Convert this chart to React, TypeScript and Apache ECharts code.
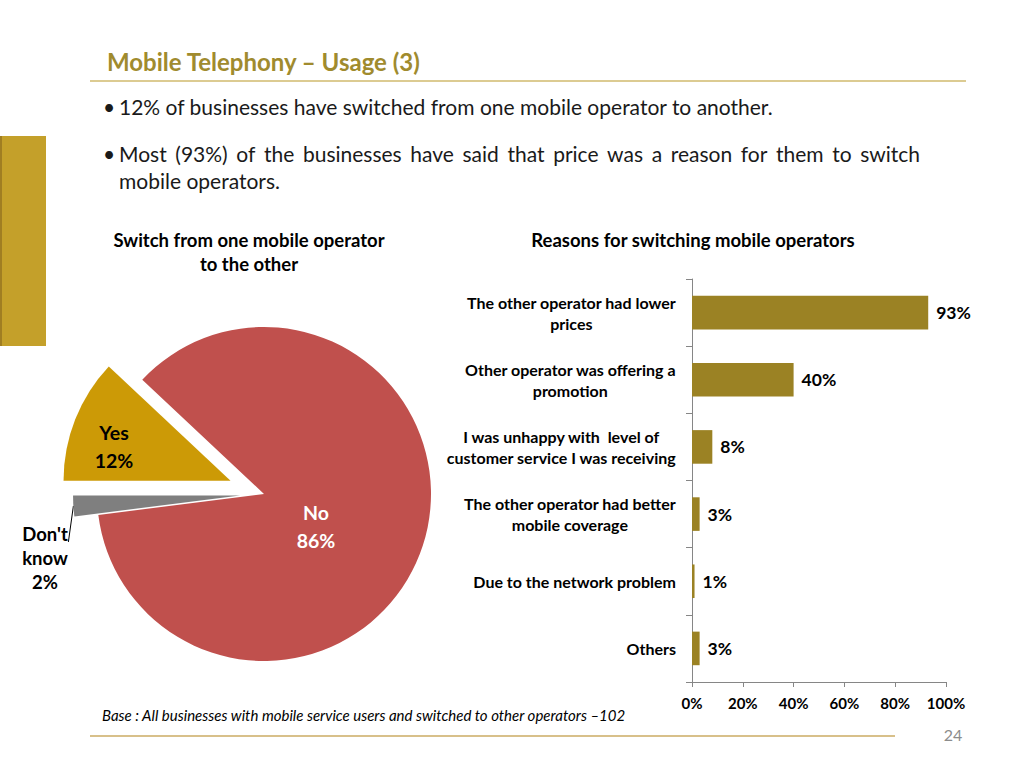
import React, { useEffect, useRef } from 'react';
import * as echarts from 'echarts';

const FONT = 'Lato, "Open Sans", sans-serif';

const titleText = 'Mobile Telephony – Usage (3)';
const bullet1 = '12% of businesses have switched from one mobile operator to another.';
const bullet2Line1 = 'Most (93%) of the businesses have said that price was a reason for them to switch';
const bullet2Line2 = 'mobile operators.';
const pieTitle = ['Switch from one mobile operator', 'to the other'];
const barTitle = 'Reasons for switching mobile operators';
const footnote = 'Base : All businesses with mobile service users and switched to other operators –102';
const pageNumber = '24';

const pieNames = ['Yes', 'No', "Don't know"];
const pieValues = [12, 86, 2];
const pieColors = ['#CC9A06', '#C0504D', '#7F7F7F'];

const reasonCategories = [
  'The other operator had lower\nprices',
  'Other operator was offering a\npromotion',
  'I was unhappy with  level of\ncustomer service I was receiving',
  'The other operator had better\nmobile coverage',
  'Due to the network problem',
  'Others',
];
const reasonValues = [93, 40, 8, 3, 1, 3];
const xTickMin = 0;
const xTickMax = 100;
const xTickStep = 20;

function justifiedWords(line: string, x0: number, x1: number, font: string) {
  const words = line.split(' ');
  const ctx = document.createElement('canvas').getContext('2d')!;
  ctx.font = font;
  const widths = words.map((w) => ctx.measureText(w).width);
  const total = widths.reduce((a, b) => a + b, 0);
  const gap = (x1 - x0 - total) / (words.length - 1);
  let x = x0;
  return words.map((w, i) => {
    const el = { w, x };
    x += widths[i] + gap;
    return el;
  });
}

export default function App() {
  const ref = useRef<HTMLDivElement>(null);

  useEffect(() => {
    if (!ref.current) return;
    const chart = echarts.init(ref.current, null, { renderer: 'svg' });

    const bodyFont = `21px Lato`;
    const words = justifiedWords(bullet2Line1, 119, 920, bodyFont);

    const txt = (text: string, x: number, y: number, extra: any = {}) => ({
      type: 'text',
      x,
      y,
      silent: true,
      style: {
        text,
        fill: '#1a1a1a',
        fontFamily: FONT,
        fontSize: 21,
        align: 'left',
        verticalAlign: 'middle',
        ...extra,
      },
    });

    const graphics: any[] = [
      {
        type: 'rect',
        shape: { x: 0, y: 136, width: 46, height: 210 },
        style: { fill: '#C4A02A' },
        silent: true,
      },
      {
        type: 'rect',
        shape: { x: 0, y: 136, width: 2, height: 210 },
        style: { fill: '#A07E22' },
        silent: true,
      },
      txt(titleText, 107, 61, { fontSize: 24, fontWeight: 'bold', fill: '#A08B2E' }),
      {
        type: 'line',
        shape: { x1: 90, y1: 81, x2: 966, y2: 81 },
        style: { stroke: '#DCCB92', lineWidth: 2 },
        silent: true,
      },
      txt('•', 103, 106),
      txt(bullet1, 119, 106),
      txt('•', 103, 153),
      ...words.map((w) => txt(w.w, w.x, 153)),
      txt(bullet2Line2, 119, 180),
      txt(pieTitle[0], 249, 240, { fontSize: 18.5, fontWeight: 'bold', align: 'center', fill: '#000' }),
      txt(pieTitle[1], 249, 264, { fontSize: 18.5, fontWeight: 'bold', align: 'center', fill: '#000' }),
      txt(barTitle, 693, 240, { fontSize: 18.5, fontWeight: 'bold', align: 'center', fill: '#000' }),
      txt(footnote, 102, 715, { fontSize: 15, fontStyle: 'italic', fill: '#000' }),
      {
        type: 'line',
        shape: { x1: 90, y1: 736, x2: 895, y2: 736 },
        style: { stroke: '#D8C08A', lineWidth: 2 },
        silent: true,
      },
      txt(pageNumber, 953, 734, { fontSize: 16, align: 'center', fill: '#8C8C8C' }),
    ];

    // pie geometry: explode the slices along their middle angle
    const pieCenter = [264, 494];
    const explode = [36, 0, 24];
    const total = pieValues.reduce((a, b) => a + b, 0);
    let acc = 0;
    const mids = pieValues.map((v) => {
      const a0 = 180 - (acc / total) * 360;
      acc += v;
      const a1 = 180 - (acc / total) * 360;
      return (((a0 + a1) / 2) * Math.PI) / 180;
    });
    const pieLabelPos = [
      { x: 114, y: 446 },
      { x: 316, y: 526 },
      { x: 45, y: 558 },
    ];

    const pieSeries = pieNames.map((_, k) => ({
      type: 'pie',
      center: [
        pieCenter[0] + explode[k] * Math.cos(mids[k]),
        pieCenter[1] - explode[k] * Math.sin(mids[k]),
      ],
      radius: 167,
      startAngle: 180,
      clockwise: true,
      silent: true,
      avoidLabelOverlap: false,
      emphasis: { disabled: true },
      labelLayout: (p: any) => {
        if (p.dataIndex !== k) return {};
        const out: any = {
          x: pieLabelPos[k].x,
          y: pieLabelPos[k].y,
          align: 'center',
          verticalAlign: 'middle',
        };
        if (k === 2 && p.labelLinePoints && p.labelLinePoints.length) {
          const start = p.labelLinePoints[0];
          out.labelLinePoints = [start, [start[0] - 5, start[1] + 36]];
        }
        return out;
      },
      data: pieNames.map((name, i) => ({
        name,
        value: pieValues[i],
        itemStyle: {
          color: i === k ? pieColors[i] : 'rgba(0,0,0,0)',
          borderWidth: 0,
        },
        label:
          i !== k
            ? { show: false }
            : i === 2
            ? {
                show: true,
                position: 'outside',
                formatter: "Don't\nknow\n{c}%",
                color: '#000',
                fontWeight: 'bold',
                fontSize: 18.5,
                lineHeight: 24,
                fontFamily: FONT,
              }
            : {
                show: true,
                position: 'inside',
                formatter: '{b}\n{c}%',
                color: i === 1 ? '#fff' : '#000',
                fontWeight: 'bold',
                fontSize: 19.5,
                lineHeight: 28,
                fontFamily: FONT,
              },
        labelLine:
          i === k && i === 2
            ? { show: true, length: 8, length2: 0, lineStyle: { color: '#000', width: 1 } }
            : { show: false },
      })),
    }));

    const option: any = {
      animation: false,
      textStyle: { fontFamily: FONT },
      graphic: { elements: graphics },
      grid: { left: 692, right: 78, top: 279, bottom: 86, containLabel: false },
      xAxis: {
        type: 'value',
        min: xTickMin,
        max: xTickMax,
        interval: xTickStep,
        splitLine: { show: false },
        axisLine: { show: true, lineStyle: { color: '#868686' } },
        axisTick: { show: true, length: 5, lineStyle: { color: '#868686' } },
        axisLabel: {
          formatter: '{value}%',
          fontWeight: 'bold',
          fontSize: 15,
          color: '#000',
          margin: 13,
          fontFamily: FONT,
        },
      },
      yAxis: {
        type: 'category',
        inverse: true,
        data: reasonCategories,
        axisLine: { show: true, lineStyle: { color: '#868686' } },
        axisTick: { show: true, length: 6, lineStyle: { color: '#868686' } },
        axisLabel: {
          align: 'right',
          margin: 16,
          formatter: (v: string) =>
            v
              .split('\n')
              .map((l) => `{c|${l}}`)
              .join('\n'),
          rich: {
            c: {
              align: 'center',
              fontWeight: 'bold',
              fontSize: 16,
              lineHeight: 21,
              color: '#000',
              fontFamily: FONT,
            },
          },
        },
      },
      series: [
        {
          type: 'bar',
          data: reasonValues,
          barCategoryGap: '50%',
          itemStyle: { color: '#9B8224' },
          label: {
            show: true,
            position: 'right',
            distance: 8,
            formatter: '{c}%',
            fontWeight: 'bold',
            fontSize: 17.5,
            color: '#000',
            fontFamily: FONT,
          },
        },
        ...pieSeries,
      ],
    };

    chart.setOption(option);
    return () => chart.dispose();
  }, []);

  return (
    <div
      ref={ref}
      style={{ position: 'fixed', left: 0, top: 0, width: 1024, height: 768, background: '#fff' }}
    />
  );
}
